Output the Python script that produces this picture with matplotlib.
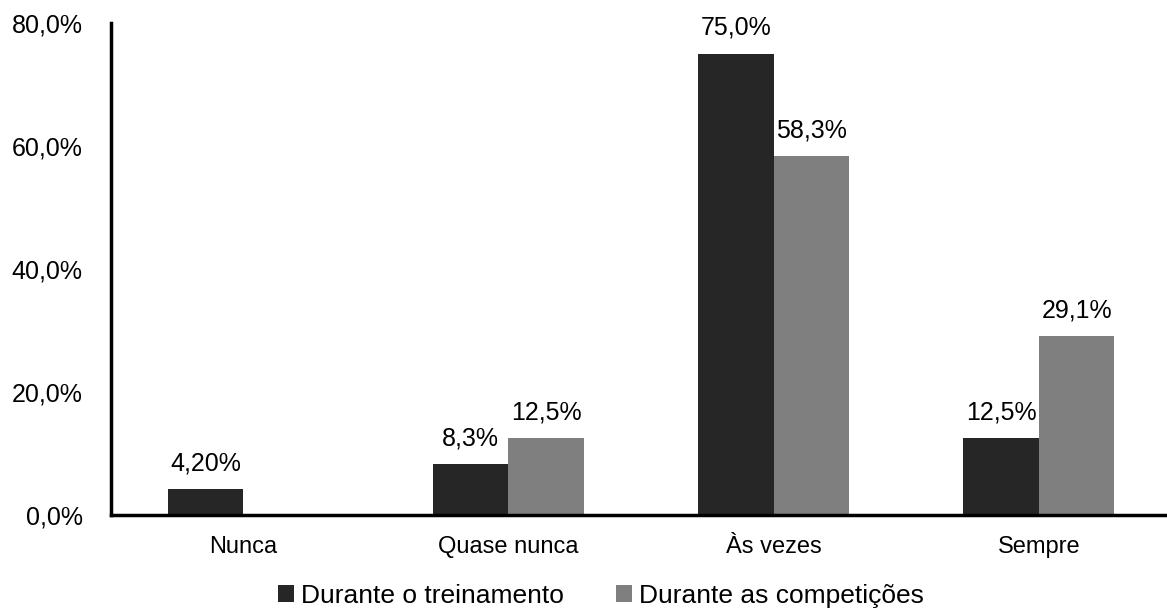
import matplotlib
matplotlib.use("Agg")
import matplotlib.pyplot as plt
import numpy as np

# ---------------- data ----------------
categories = ["Nunca", "Quase nunca", "Às vezes", "Sempre"]
treino = [4.20, 8.3, 75.0, 12.5]
competicao = [np.nan, 12.5, 58.3, 29.1]
treino_labels = ["4,20%", "8,3%", "75,0%", "12,5%"]
competicao_labels = ["", "12,5%", "58,3%", "29,1%"]
series_names = ["Durante o treinamento", "Durante as competições"]
yticks = [0, 20, 40, 60, 80]
ytick_labels = ["0,0%", "20,0%", "40,0%", "60,0%", "80,0%"]

plt.rcParams["font.family"] = ["Liberation Sans", "DejaVu Sans"]

fig = plt.figure(figsize=(11.67, 6.10), dpi=100)
ax = fig.add_axes([110.5 / 1167, 95 / 610, 1061 / 1167, 492 / 610])

x = np.arange(len(categories))
w = 0.285
b1 = ax.bar(x - w / 2, treino, width=w, color="#262626", label=series_names[0])
b2 = ax.bar(x + w / 2, competicao, width=w, color="#7f7f7f", label=series_names[1])

# value labels above the bars
for bars, labels in ((b1, treino_labels), (b2, competicao_labels)):
    for rect, lab in zip(bars, labels):
        if not lab:
            continue
        ax.annotate(lab, (rect.get_x() + rect.get_width() / 2, rect.get_height()),
                    xytext=(0, 10), textcoords="offset points",
                    ha="center", va="bottom", fontsize=18, color="black")

ax.set_xlim(-0.5, 3.5)
ax.set_ylim(0, 80)
ax.set_xticks(x)
ax.set_xticklabels(categories, fontsize=17)
ax.set_yticks(yticks)
ax.set_yticklabels(ytick_labels, fontsize=18)
ax.tick_params(axis="both", length=0)
ax.tick_params(axis="y", pad=20)
ax.tick_params(axis="x", pad=15)

for s in ("top", "right"):
    ax.spines[s].set_visible(False)
for s in ("left", "bottom"):
    ax.spines[s].set_linewidth(2.5)
    ax.spines[s].set_color("black")

fig.legend(loc="lower center", bbox_to_anchor=(0.515, -0.035), ncol=2, frameon=False,
           fontsize=19, handlelength=0.6, handleheight=0.6, handletextpad=0.25,
           columnspacing=2.0)

fig.savefig("out.png", dpi=100)
